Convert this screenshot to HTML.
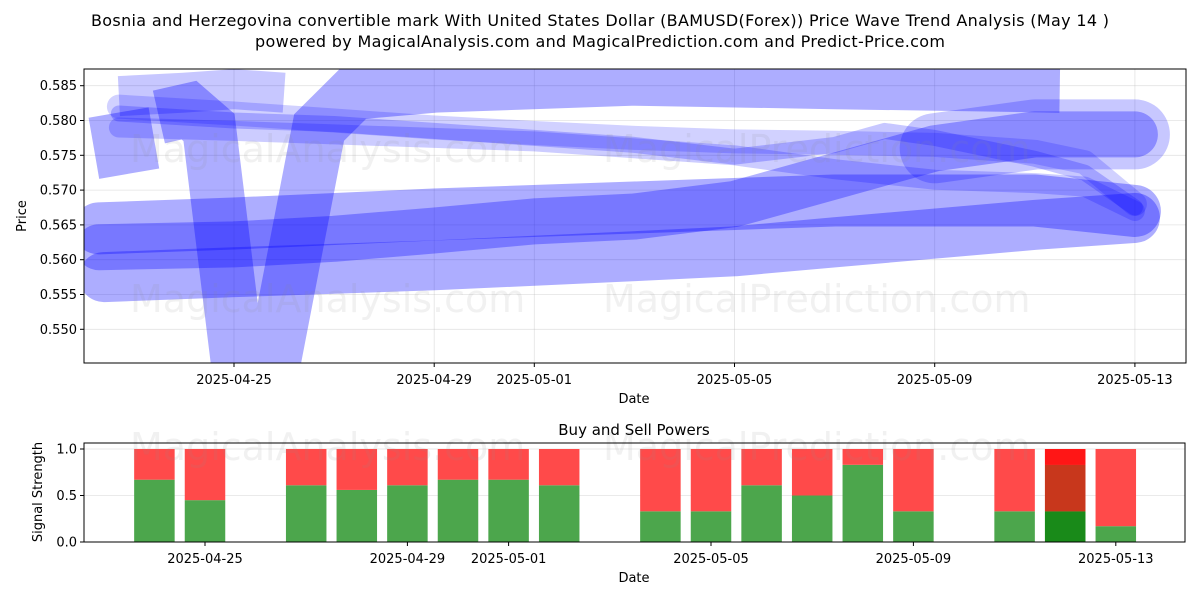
<!DOCTYPE html>
<html><head><meta charset="utf-8"><style>
body{margin:0;background:#fff}
svg{display:block;font-family:"DejaVu Sans","Liberation Sans",sans-serif}
</style></head><body>
<svg id="chart" width="1200" height="600" xmlns="http://www.w3.org/2000/svg">
<rect width="1200" height="600" fill="#fff"/>
<text x="600" y="26" font-size="16" text-anchor="middle" textLength="1018">Bosnia and Herzegovina convertible mark With United States Dollar (BAMUSD(Forex)) Price Wave Trend Analysis (May 14 )</text>
<text x="600" y="47" font-size="16" text-anchor="middle" textLength="690">powered by MagicalAnalysis.com and MagicalPrediction.com and Predict-Price.com</text>
<defs>
<clipPath id="topclip"><rect x="84" y="69" width="1102" height="294"/></clipPath>
<clipPath id="botclip"><rect x="84" y="443" width="1101" height="99"/></clipPath>
</defs>
<g id="top-grid"></g>
<g id="waves" clip-path="url(#topclip)"></g>
<g fill="#888" fill-opacity="0.12" font-size="38">
<text x="130" y="162">MagicalAnalysis.com</text>
<text x="603" y="162">MagicalPrediction.com</text>
<text x="130" y="312">MagicalAnalysis.com</text>
<text x="603" y="312">MagicalPrediction.com</text>
</g>
<rect x="84" y="69" width="1102" height="294" fill="none" stroke="#000" stroke-width="1"/>
<g id="top-ticks" font-size="13"></g>
<text x="634" y="403" font-size="13" text-anchor="middle">Date</text>
<text x="26" y="216" font-size="13" text-anchor="middle" transform="rotate(-90 26 216)">Price</text>

<text x="634" y="435" font-size="15" text-anchor="middle">Buy and Sell Powers</text>
<g id="bot-grid"></g>
<g id="bars" clip-path="url(#botclip)"></g>
<g fill="#888" fill-opacity="0.12" font-size="38">
<text x="130" y="460">MagicalAnalysis.com</text>
<text x="603" y="460">MagicalPrediction.com</text>
</g>
<rect x="84" y="443" width="1101" height="99" fill="none" stroke="#000" stroke-width="1"/>
<g id="bot-ticks" font-size="13"></g>
<text x="634" y="582" font-size="13" text-anchor="middle">Date</text>
<text x="42" y="492" font-size="13" text-anchor="middle" transform="rotate(-90 42 492)">Signal Strength</text>
</svg>
<script>
// ---- data (days relative to 2025-04-25) ----
const xTickLabels = ["2025-04-25","2025-04-29","2025-05-01","2025-05-05","2025-05-09","2025-05-13"];
const xTickDays = [0,4,6,10,14,18];
const yTickLabels = ["0.550","0.555","0.560","0.565","0.570","0.575","0.580","0.585"];
const yTickValues = [0.550,0.555,0.560,0.565,0.570,0.575,0.580,0.585];

const waveDaysV = [-1.5,-0.9,-0.5,0.2,0.6,1.7,2.4,4,8,12,16.5];
const waveV =     [0.5805,0.5815,0.5790,0.538,0.538,0.5790,0.5840,0.5850,0.5860,0.5855,0.5850];
const waveDaysTop = [-2.3,-1,0,1];
const waveTop =     [0.5835,0.5840,0.5845,0.5840];
const waveDaysRise = [-2.7,0,2,4,6,8,10,12,14,16,18];
const waveRise =     [0.5618,0.5622,0.5630,0.5642,0.5655,0.5662,0.5680,0.5720,0.5760,0.5780,0.5780];
const waveDaysLow1 = [-2.7,0,4,8,10,12,16,18];
const waveLow1 =     [0.5645,0.5652,0.5665,0.5675,0.5680,0.5685,0.5685,0.5670];
const waveDaysLow2 = [-2.6,0,4,8,10,12,16,18];
const waveLow2 =     [0.5575,0.5582,0.5592,0.5605,0.5612,0.5625,0.5650,0.5660];
const waveDaysMidA = [-2.3,0,2,4,6,8,10,12,13,14,16,17,18];
const waveMidA =     [0.5810,0.5800,0.5795,0.5785,0.5775,0.5765,0.5748,0.5765,0.5785,0.5775,0.5745,0.5725,0.5675];
const waveDaysMidB = [-2.3,0,2,4,6,8,10,12,14,16,17,18];
const waveMidB =     [0.5790,0.5785,0.5780,0.5775,0.5770,0.5760,0.5750,0.5730,0.5715,0.5710,0.5705,0.5670];
const waveDaysMidC = [-2.3,0,2,4,6,8,10,12,14,16,17,18];
const waveMidC =     [0.5820,0.5810,0.5800,0.5790,0.5782,0.5775,0.5770,0.5768,0.5765,0.5755,0.5740,0.5680];
const waveDaysLeft = [-2.8,-1.6];
const waveLeft =     [0.5760,0.5775];

const barDays =  [-1,0,2,3,4,5,6,7,9,10,11,12,13,14,16,17,18];
const buyPower = [0.67,0.45,0.61,0.56,0.61,0.67,0.67,0.61,0.33,0.33,0.61,0.5,0.83,0.33,0.33,0.33,0.17];
const specialDay = [17];
const specialMid = [0.83];

// ---- scales ----
function xTop(d){return 234+50.05*d;}
function yTop(v){return 85.7+(0.585-v)*6960;}
function xBot(d){return 205+50.6*d;}
function yBot(v){return 542-v*93;}
const NS="http://www.w3.org/2000/svg";
function mk(tag,attrs,parent){const e=document.createElementNS(NS,tag);for(const k in attrs)e.setAttribute(k,attrs[k]);parent.appendChild(e);return e;}

const tg=document.getElementById('top-grid'), tt=document.getElementById('top-ticks');
xTickDays.forEach((d,i)=>{
  const x=xTop(d);
  const gl=mk('line',{x1:x,x2:x,y1:69,y2:363,stroke:'#b0b0b0','stroke-opacity':0.35,'stroke-width':0.8},tg);
  
  
  const tk=mk('line',{x1:x,x2:x,y1:363,y2:367,stroke:'#000'},tt);
  
  
  const t=mk('text',{x:x,y:384,'text-anchor':'middle'},tt);
  t.textContent=xTickLabels[i];
  
  
});
yTickValues.forEach((v,i)=>{
  const y=yTop(v);
  const gl=mk('line',{x1:84,x2:1186,y1:y,y2:y,stroke:'#b0b0b0','stroke-opacity':0.35,'stroke-width':0.8},tg);
  
  
  const tk=mk('line',{x1:80,x2:84,y1:y,y2:y,stroke:'#000'},tt);
  
  
  const t=mk('text',{x:77,y:y+4.5,'text-anchor':'end'},tt);
  t.textContent=yTickLabels[i];
  
  
});

const wg=document.getElementById('waves');
function wave(days,vals,w,op,cap,join,name){
  const pts=days.map((d,i)=>xTop(d).toFixed(1)+','+yTop(vals[i]).toFixed(1)).join(' ');
  const p=mk('polyline',{points:pts,fill:'none',stroke:'#0000ff','stroke-opacity':op,'stroke-width':w,'stroke-linejoin':join,'stroke-linecap':cap,'stroke-miterlimit':10},wg);
  
  
}
wave(waveDaysLow2,waveLow2,50,0.32,'round','round','wave-low-b');
wave(waveDaysLow1,waveLow1,52,0.32,'round','round','wave-low-a');
wave(waveDaysRise,waveRise,46,0.3,'round','round','wave-rise');
wave(waveDaysV,waveV,54,0.32,'butt','miter','wave-v');
wave(waveDaysTop,waveTop,40,0.22,'butt','round','wave-top');
wave(waveDaysLeft,waveLeft,62,0.32,'butt','round','wave-left');
wave(waveDaysMidC,waveMidC,24,0.18,'round','round','wave-mid-c');
wave(waveDaysMidA,waveMidA,16,0.22,'round','round','wave-mid-a');
wave(waveDaysMidB,waveMidB,20,0.2,'round','round','wave-mid-b');
wave(waveDaysRise.slice(8),waveRise.slice(8),70,0.22,'round','round','wave-rise-end');

const bg=document.getElementById('bot-grid'), bt=document.getElementById('bot-ticks');
[0,0.5,1].forEach((v,i)=>{
  const y=yBot(v);
  const gl=mk('line',{x1:84,x2:1185,y1:y,y2:y,stroke:'#b0b0b0','stroke-opacity':0.35,'stroke-width':0.8},bg);
  
  
  const tk=mk('line',{x1:80,x2:84,y1:y,y2:y,stroke:'#000'},bt);
  
  
  const t=mk('text',{x:77,y:y+4.5,'text-anchor':'end'},bt);
  t.textContent=['0.0','0.5','1.0'][i];
  
  
});
xTickDays.forEach((d,i)=>{
  const x=xBot(d);
  const tk=mk('line',{x1:x,x2:x,y1:542,y2:546,stroke:'#000'},bt);
  
  
  const t=mk('text',{x:x,y:563,'text-anchor':'middle'},bt);
  t.textContent=xTickLabels[i];
  
  
});

const bgp=document.getElementById('bars');
const bw=40.5;
barDays.forEach((d,i)=>{
  const x=xBot(d)-bw/2, b=buyPower[i];
  const g=mk('rect',{x:x,y:yBot(b),width:bw,height:yBot(0)-yBot(b),fill:'rgb(76,166,76)'},bgp);
  
  
  const r=mk('rect',{x:x,y:yBot(1),width:bw,height:yBot(b)-yBot(1),fill:'rgb(255,74,74)'},bgp);
  
  
});
specialDay.forEach((d,i)=>{
  const x=xBot(d)-bw/2, j=barDays.indexOf(d), b=buyPower[j], m=specialMid[i];
  const g=mk('rect',{x:x,y:yBot(b),width:bw,height:yBot(0)-yBot(b),fill:'rgb(25,138,25)'},bgp);
  
  
  const dr=mk('rect',{x:x,y:yBot(m),width:bw,height:yBot(b)-yBot(m),fill:'rgb(200,55,28)'},bgp);
  
  
  const r=mk('rect',{x:x,y:yBot(1),width:bw,height:yBot(m)-yBot(1),fill:'rgb(255,22,22)'},bgp);
  
  
});
</script>
</body></html>
